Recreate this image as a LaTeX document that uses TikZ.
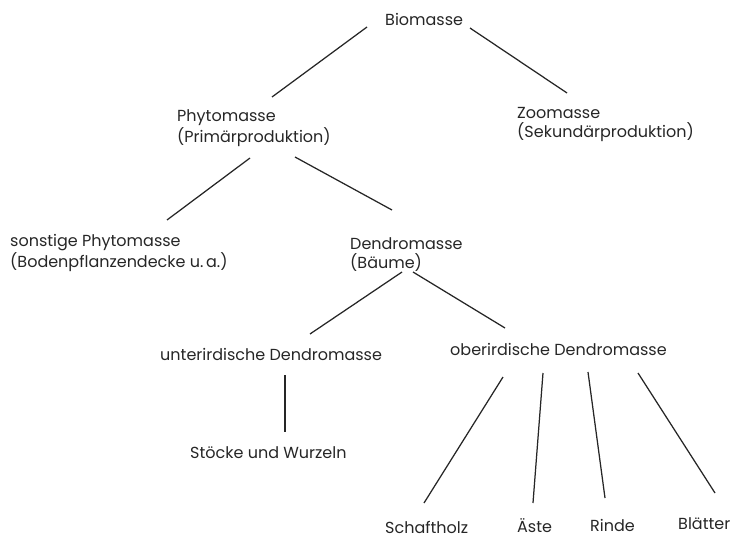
\documentclass[tikz,border=0pt]{standalone}
\usepackage{fontspec}
\setmainfont{Poppins}
\begin{document}
\begin{tikzpicture}[x=1pt, y=-1pt,
  lbl/.style={anchor=base west, inner sep=0pt, align=left, text=black!85,
    font=\fontsize{16}{19}\selectfont},
  ast/.style={line width=1.25pt, black!85}]
\useasboundingbox (0,0) rectangle (744,538);

% two-line labels sit on the baseline of their last line
\node [lbl] (bio) at (385,25) {Biomasse};
\node [lbl] (phyto) at (177,142) {Phytomasse\\(Primärproduktion)};
\node [lbl] (zoo) at (517,137) {Zoomasse\\(Sekundärproduktion)};
\node [lbl] (sonst) at (10,267) {sonstige Phytomasse\\(Bodenpflanzendecke u.\,a.)};
\node [lbl] (dendro) at (350,268) {Dendromasse\\(Bäume)};
\node [lbl] (unter) at (160,360) {unterirdische Dendromasse};
\node [lbl] (ober) at (450,355) {oberirdische Dendromasse};
\node [lbl] (stoecke) at (190,458) {Stöcke und Wurzeln};
\node [lbl] (schaft) at (385,533) {Schaftholz};
\node [lbl] (aeste) at (517,532) {Äste};
\node [lbl] (rinde) at (590,531) {Rinde};
\node [lbl] (blaetter) at (678,529) {Blätter};

\draw [ast] ([shift={(-18,2)}]bio.base west) edge ([shift={(95,-45)}]phyto.base west);
\draw [ast] ([shift={(85,3)}]bio.base west) edge ([shift={(50,-44)}]zoo.base west);
\draw [ast] ([shift={(73,16)}]phyto.base west) edge ([shift={(157,-47)}]sonst.base west);
\draw [ast] ([shift={(118,15)}]phyto.base west) edge ([shift={(42,-58)}]dendro.base west);
\draw [ast] ([shift={(52,4)}]dendro.base west) edge ([shift={(150,-26)}]unter.base west);
\draw [ast] ([shift={(63,4)}]dendro.base west) edge ([shift={(55,-27)}]ober.base west);
\draw [ast] ([shift={(125,15)}]unter.base west) edge ([shift={(95,-26)}]stoecke.base west);
\draw [ast] ([shift={(53,22)}]ober.base west) edge ([shift={(39,-30)}]schaft.base west);
\draw [ast] ([shift={(93,18)}]ober.base west) edge ([shift={(16,-29)}]aeste.base west);
\draw [ast] ([shift={(138,17)}]ober.base west) edge ([shift={(15,-33)}]rinde.base west);
\draw [ast] ([shift={(188,18)}]ober.base west) edge ([shift={(37,-36)}]blaetter.base west);
\end{tikzpicture}
\end{document}
